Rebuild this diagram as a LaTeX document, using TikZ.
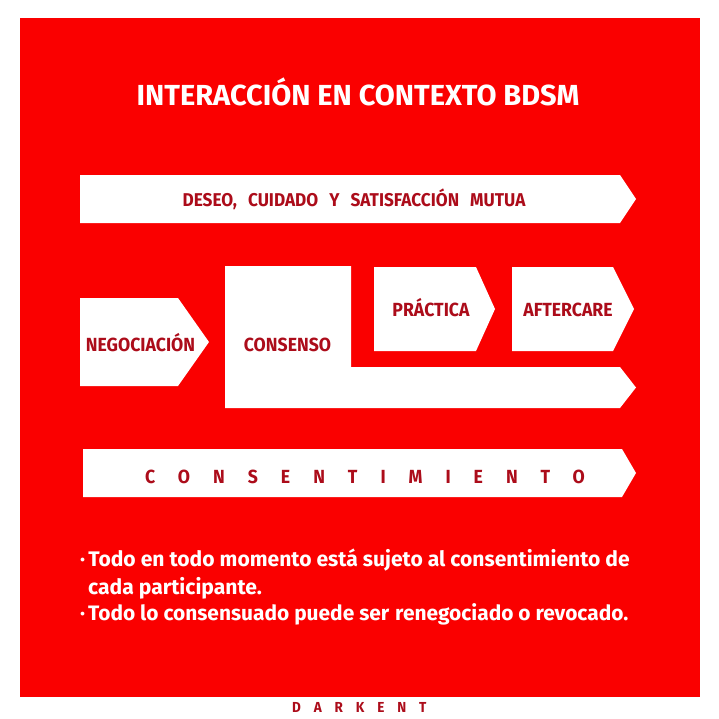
\documentclass[tikz,border=0pt]{standalone}
\usepackage{fontspec}
\setmainfont{Fira Sans}
\newfontfamily\condb[FakeStretch=0.93]{Fira Sans}
\newfontfamily\bodyb{Fira Sans}
\definecolor{bgred}{RGB}{250,0,0}
\definecolor{dred}{RGB}{172,12,26}
\tikzset{
  panel/.style={fill=white,draw=none},
  lbl/.style={text=dred,font=\condb\bfseries\fontsize{19}{22}\selectfont,inner sep=0pt,anchor=base},
  bul/.style={text=white,font=\bodyb\bfseries\fontsize{21.1}{25}\selectfont,inner sep=0pt,anchor=base west},
}
\begin{document}
\begin{tikzpicture}[x=1pt,y=-1pt]
\useasboundingbox (0,0) rectangle (719,718);
\fill[white] (0,0) rectangle (719,718);
\fill[bgred] (20,18) rectangle (700,697);
% title
\node[text=white,font=\bodyb\bfseries\fontsize{29}{32}\selectfont,inner sep=0pt,anchor=base] (title) at (358,105) {INTERACCIÓN EN CONTEXTO BDSM};
% shapes
\path[panel] (80,175) -- (620,175) -- (636,199) -- (620,223) -- (80,223) -- cycle;
\path[panel] (80,298) -- (178,298) -- (209,342) -- (178,386) -- (80,386) -- cycle;
\path[panel] (225,266) -- (351,266) -- (351,367) -- (620,367) -- (636,387.5) -- (620,408) -- (225,408) -- cycle;
\path[panel] (374,267) -- (476,267) -- (495,309) -- (476,351) -- (374,351) -- cycle;
\path[panel] (512,267) -- (613,267) -- (634,309) -- (613,351) -- (512,351) -- cycle;
\path[panel] (83,449) -- (622,449) -- (636,473) -- (622,497) -- (83,497) -- cycle;
% labels
\node[lbl,font=\condb\bfseries\fontsize{18.5}{22}\selectfont] (deseo) at (354,206.5) {DESEO,\hspace{7pt} CUIDADO\hspace{7pt} Y\hspace{7pt} SATISFACCIÓN\hspace{7pt} MUTUA};
\node[lbl] (nego) at (140.5,351.5) {NEGOCIACIÓN};
\node[lbl] (cons) at (287.5,351.5) {CONSENSO};
\node[lbl] (prac) at (431,316.5) {PRÁCTICA};
\node[lbl] (after) at (568,316.5) {AFTERCARE};
\node[lbl,font=\condb\bfseries\fontsize{19}{22}\selectfont\addfontfeature{LetterSpace=121},anchor=base west] (consent) at (145,483) {CONSENTIMIENTO};
% bullets
\node[bul] (b1) at (80,566) {·\hspace{3pt}Todo en todo momento está sujeto al consentimiento de};
\node[bul] (b2) at (88,594) {cada participante.};
\node[bul,font=\bodyb\bfseries\fontsize{20.9}{25}\selectfont] (b3) at (80,620) {·\hspace{3pt}Todo lo consensuado puede ser\ \hspace{1pt}renegociado o revocado.};
% footer
\node[lbl,font=\condb\bfseries\fontsize{14.5}{16}\selectfont\addfontfeature{LetterSpace=89},anchor=base west] (dark) at (292,712) {DARKENT};
\end{tikzpicture}
\end{document}
